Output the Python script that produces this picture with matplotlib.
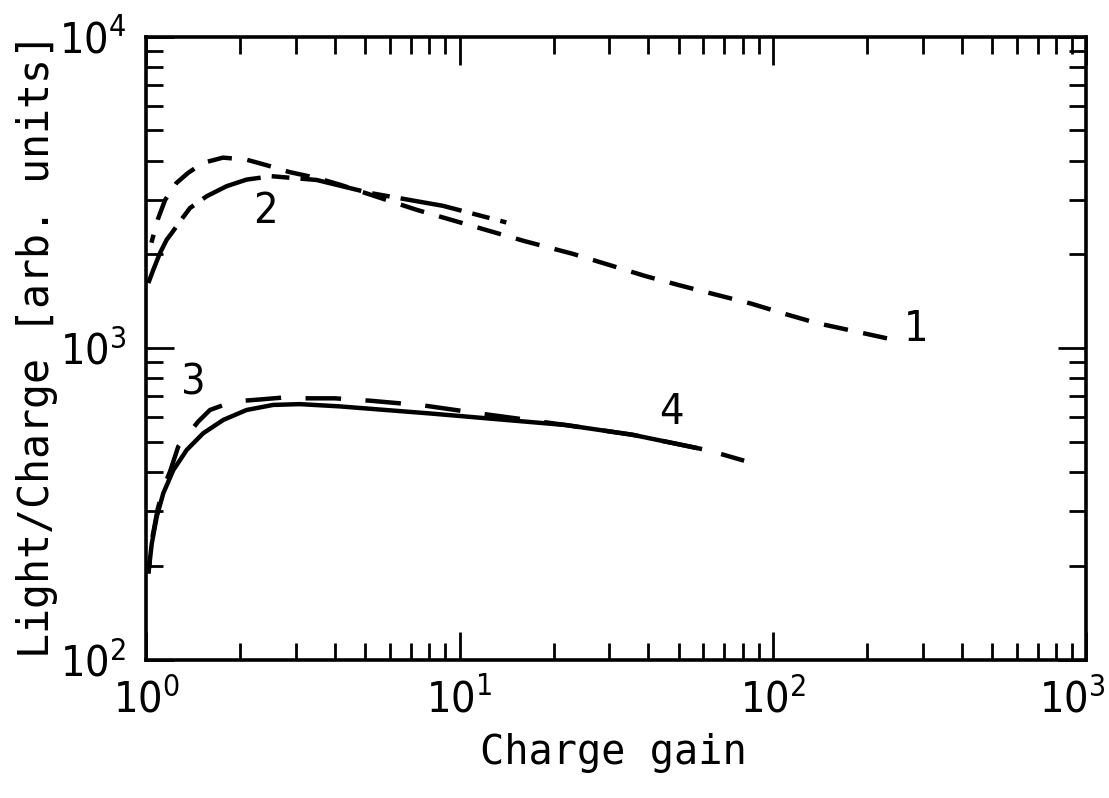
import math

import matplotlib
matplotlib.use("Agg")
import matplotlib.pyplot as plt
from matplotlib import font_manager
from matplotlib.font_manager import FontProperties
from matplotlib.ticker import LogLocator, NullFormatter, FuncFormatter
from matplotlib.transforms import ScaledTranslation

# curve 1: dashed, upper (ends at label "1")
c1_x = [1.04, 1.09, 1.15, 1.25, 1.36, 1.52, 1.76, 2.09, 2.45, 2.87, 3.5, 4.15,
        7.3, 16.1, 23.1, 30.7, 39.3, 50.6, 66.8, 85.1, 110, 138, 166, 231]
c1_y = [2180, 2590, 2990, 3390, 3650, 3935, 4090, 4030, 3855, 3675, 3520, 3350,
        2780, 2207, 2005, 1837, 1702, 1589, 1479, 1390, 1285, 1203, 1156, 1075]

# curve 2: dash-dot, upper
c2_x = [1.017, 1.055, 1.108, 1.164, 1.207, 1.283, 1.381, 1.561, 1.807, 2.093,
        2.513, 3.5, 5.17, 8.85, 14.1]
c2_y = [1618, 1786, 2021, 2230, 2340, 2552, 2818, 3074, 3311, 3477,
        3565, 3467, 3150, 2864, 2533]

# curve 3: dashed, lower
c3_x = [1.017, 1.05, 1.09, 1.14, 1.192, 1.267, 1.467, 1.599, 1.897, 2.224, 2.737,
        3.17, 4.0, 5.17, 7.64, 11.58, 21.9, 35.6, 59.4, 68.3, 80.9]
c3_y = [189, 250, 305, 360, 401, 483, 581, 633, 674, 682, 694,
        690, 690, 678, 655, 617, 566, 527, 474, 457, 435]

# curve 4: solid, lower
c4_x = [1.017, 1.043, 1.082, 1.135, 1.222, 1.348, 1.522, 1.763, 2.093, 2.543,
        3.093, 4.148, 8.03, 21.9, 35.6, 59.4]
c4_y = [189, 236, 288, 342, 406, 471, 533, 588, 633, 657,
        661, 650, 617, 566, 527, 474]

labels = ["1", "2", "3", "4"]
label_x = [287, 2.41, 1.42, 47.5]
label_y = [1156, 2758, 778, 624]

_names = {f.name for f in font_manager.fontManager.ttflist}
if "Liberation Sans Narrow" in _names:
    NUM_FONT = "Liberation Sans Narrow"
else:
    NUM_FONT = "DejaVu Sans:stretch=condensed"
TXT_FONT = "DejaVu Sans Mono"

plt.rcParams["font.family"] = TXT_FONT
plt.rcParams["mathtext.fontset"] = "custom"
plt.rcParams["mathtext.rm"] = NUM_FONT
plt.rcParams["mathtext.it"] = NUM_FONT
plt.rcParams["mathtext.bf"] = NUM_FONT
plt.rcParams["mathtext.default"] = "rm"


def power_label(v, pos):
    return r"$10^{%d}$" % round(math.log10(v))


def main():
    fig = plt.figure(figsize=(11.09, 7.98), dpi=100)
    ax = fig.add_axes([0.1317, 0.1735, 0.848, 0.7805])

    lw = 3.2
    # drawn from the right end so the short tail past curve 4 is a lone dash
    ax.plot(c3_x[::-1], c3_y[::-1], color="black", lw=lw,
            linestyle=(2.6, (8, 5.5)))
    ax.plot(c4_x, c4_y, color="black", lw=lw, solid_capstyle="butt")
    ax.plot(c1_x[::-1], c1_y[::-1], color="black", lw=lw, dashes=(5.5, 3.5))
    ax.plot(c2_x, c2_y, color="black", lw=lw, dashes=(14, 2.5, 4, 2.5))

    ax.set_xscale("log")
    ax.set_yscale("log")
    ax.set_xlim(1, 1000)
    ax.set_ylim(100, 10000)

    num_prop = FontProperties(NUM_FONT)
    num_prop.set_size(31)
    for lab, lx, ly in zip(labels, label_x, label_y):
        ax.text(lx, ly, lab, fontproperties=num_prop, ha="center", va="center")

    ax.xaxis.set_major_locator(LogLocator(base=10, numticks=10))
    ax.yaxis.set_major_locator(LogLocator(base=10, numticks=10))
    ax.xaxis.set_minor_locator(LogLocator(base=10, subs=range(2, 10), numticks=20))
    ax.yaxis.set_minor_locator(LogLocator(base=10, subs=range(2, 10), numticks=20))
    ax.xaxis.set_major_formatter(FuncFormatter(power_label))
    ax.yaxis.set_major_formatter(FuncFormatter(power_label))
    ax.xaxis.set_minor_formatter(NullFormatter())
    ax.yaxis.set_minor_formatter(NullFormatter())

    ax.tick_params(which="both", direction="in", top=True, right=True,
                   width=2.0, labelsize=31, color="black")
    ax.tick_params(which="major", length=20, pad=14)
    ax.tick_params(which="minor", length=12)
    for sp in ax.spines.values():
        sp.set_linewidth(2.6)

    ax.set_xlabel("Charge gain", fontsize=29)
    ax.set_ylabel("Light/Charge [arb. units]", fontsize=30)
    ax.xaxis.set_label_coords(0.497, -0.118)
    ax.yaxis.set_label_coords(-0.094, 0.505)

    # the 10^3 label on the x axis sits flush with the right edge
    fig.canvas.draw()
    for lbl in ax.xaxis.get_majorticklabels():
        if lbl.get_text() == power_label(1000, None):
            lbl.set_horizontalalignment("right")
            lbl.set_transform(lbl.get_transform()
                              + ScaledTranslation(0.19, 0, fig.dpi_scale_trans))

    fig.savefig("out.png", dpi=100)


if __name__ == "__main__":
    main()
